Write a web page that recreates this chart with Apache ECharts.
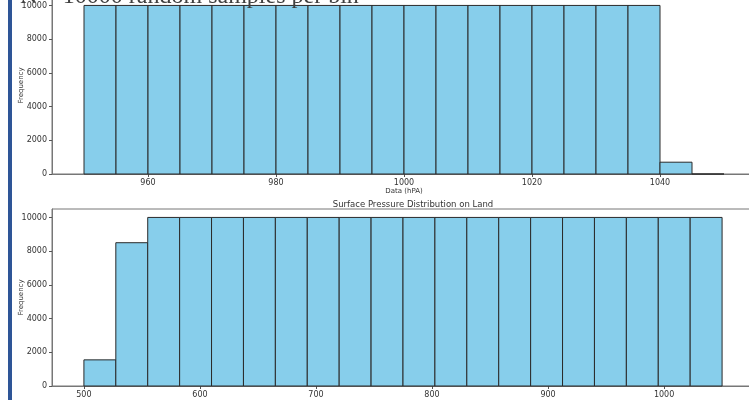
<!DOCTYPE html>
<html>
<head>
<meta charset="utf-8">
<script src="https://cdn.jsdelivr.net/npm/echarts@6/dist/echarts.min.js"></script>
<style>
  html, body { margin: 0; padding: 0; background: #fff; }
  #main { width: 749px; height: 400px; }
</style>
</head>
<body>
<div id="main"></div>
<script>
// top histogram: sea-level pressure, bins of 5 hPa
var topEdges = [950, 955, 960, 965, 970, 975, 980, 985, 990, 995, 1000, 1005, 1010, 1015, 1020, 1025, 1030, 1035, 1040, 1045, 1050]
var topCounts = [10000, 10000, 10000, 10000, 10000, 10000, 10000, 10000, 10000, 10000, 10000, 10000, 10000, 10000, 10000, 10000, 10000, 10000, 700, 0]
var topTicks = [960, 980, 1000, 1020, 1040]

// bottom histogram: surface pressure on land
var landEdges = [500, 527.5, 555, 582.5, 610, 637.5, 665, 692.5, 720, 747.5, 775, 802.5, 830, 857.5, 885, 912.5, 940, 967.5, 995, 1022.5, 1050]
var landCounts = [1550, 8500, 10000, 10000, 10000, 10000, 10000, 10000, 10000, 10000, 10000, 10000, 10000, 10000, 10000, 10000, 10000, 10000, 10000, 10000]
var landTicks = [500, 600, 700, 800, 900, 1000]

var yTicks = [0, 2000, 4000, 6000, 8000, 10000]

function bins(edges, counts) {
  var out = []
  for (var i = 0; i < counts.length; i++) out.push([edges[i], edges[i + 1], counts[i]])
  return out
}

function renderBin(params, api) {
  var p0 = api.coord([api.value(0), api.value(2)])
  var p1 = api.coord([api.value(1), 0])
  return {
    type: 'rect',
    shape: { x: p0[0], y: p0[1], width: p1[0] - p0[0], height: p1[1] - p0[1] },
    style: { fill: '#87CEEB', stroke: '#2a2a2a', lineWidth: 1 }
  }
}

function plain(v) { return String(v) }

var labelStyle = { fontFamily: 'DejaVu Sans', fontSize: 8, color: '#333', formatter: plain }
var spine = { show: true, onZero: false, lineStyle: { color: '#777', width: 1 } }
var tick = { show: true, length: 3, lineStyle: { color: '#555' } }
var nameStyle = { fontFamily: 'DejaVu Sans', fontSize: 7, color: '#333' }

function xAxis(gridIndex, min, max, ticks, name) {
  return {
    type: 'value', gridIndex: gridIndex, min: min, max: max,
    name: name, nameLocation: 'middle', nameGap: 14, nameMoveOverlap: false,
    nameTextStyle: nameStyle,
    axisLine: spine,
    axisTick: Object.assign({ customValues: ticks }, tick),
    axisLabel: Object.assign({ customValues: ticks, margin: 5 }, labelStyle),
    splitLine: { show: false }
  }
}

function yAxis(gridIndex) {
  return {
    type: 'value', gridIndex: gridIndex, min: 0, max: 10500,
    name: 'Frequency', nameLocation: 'middle', nameGap: 27, nameMoveOverlap: false,
    nameTextStyle: nameStyle,
    axisLine: spine,
    axisTick: Object.assign({ customValues: yTicks }, tick),
    axisLabel: Object.assign({ customValues: yTicks, margin: 5 }, labelStyle),
    splitLine: { show: false }
  }
}

var chart = echarts.init(document.getElementById('main'), null, { renderer: 'canvas' })

var option = {
  backgroundColor: '#fff',
  animation: false,
  title: {
    text: 'Surface Pressure Distribution on Land',
    left: 408, top: 195, textAlign: 'center',
    textStyle: { fontFamily: 'DejaVu Sans', fontSize: 8.5, fontWeight: 'normal', color: '#333' }
  },
  graphic: [
    { type: 'rect', left: 8, top: 0, shape: { width: 4, height: 400 }, style: { fill: '#2E5597' } },
    {
      type: 'text', z: 100,
      style: { x: 20, y: -3, text: 'N = 10000 random samples per bin', font: '24px "Liberation Serif"', fill: '#404040', verticalAlign: 'middle', align: 'left' }
    }
  ],
  grid: [
    { left: 52, top: -3, width: 704, height: 177, containLabel: false, outerBoundsMode: 'none', show: true, borderColor: '#777', borderWidth: 1 },
    { left: 52, top: 209, width: 702, height: 177, containLabel: false, outerBoundsMode: 'none', show: true, borderColor: '#777', borderWidth: 1 }
  ],
  xAxis: [
    xAxis(0, 945, 1055, topTicks, 'Data (hPA)'),
    xAxis(1, 472.5, 1077.5, landTicks, '')
  ],
  yAxis: [yAxis(0), yAxis(1)],
  series: [
    { type: 'custom', xAxisIndex: 0, yAxisIndex: 0, renderItem: renderBin, data: bins(topEdges, topCounts), encode: { x: [0, 1], y: 2 } },
    { type: 'custom', xAxisIndex: 1, yAxisIndex: 1, renderItem: renderBin, data: bins(landEdges, landCounts), encode: { x: [0, 1], y: 2 } }
  ]
}

chart.setOption(option)
</script>
</body>
</html>
